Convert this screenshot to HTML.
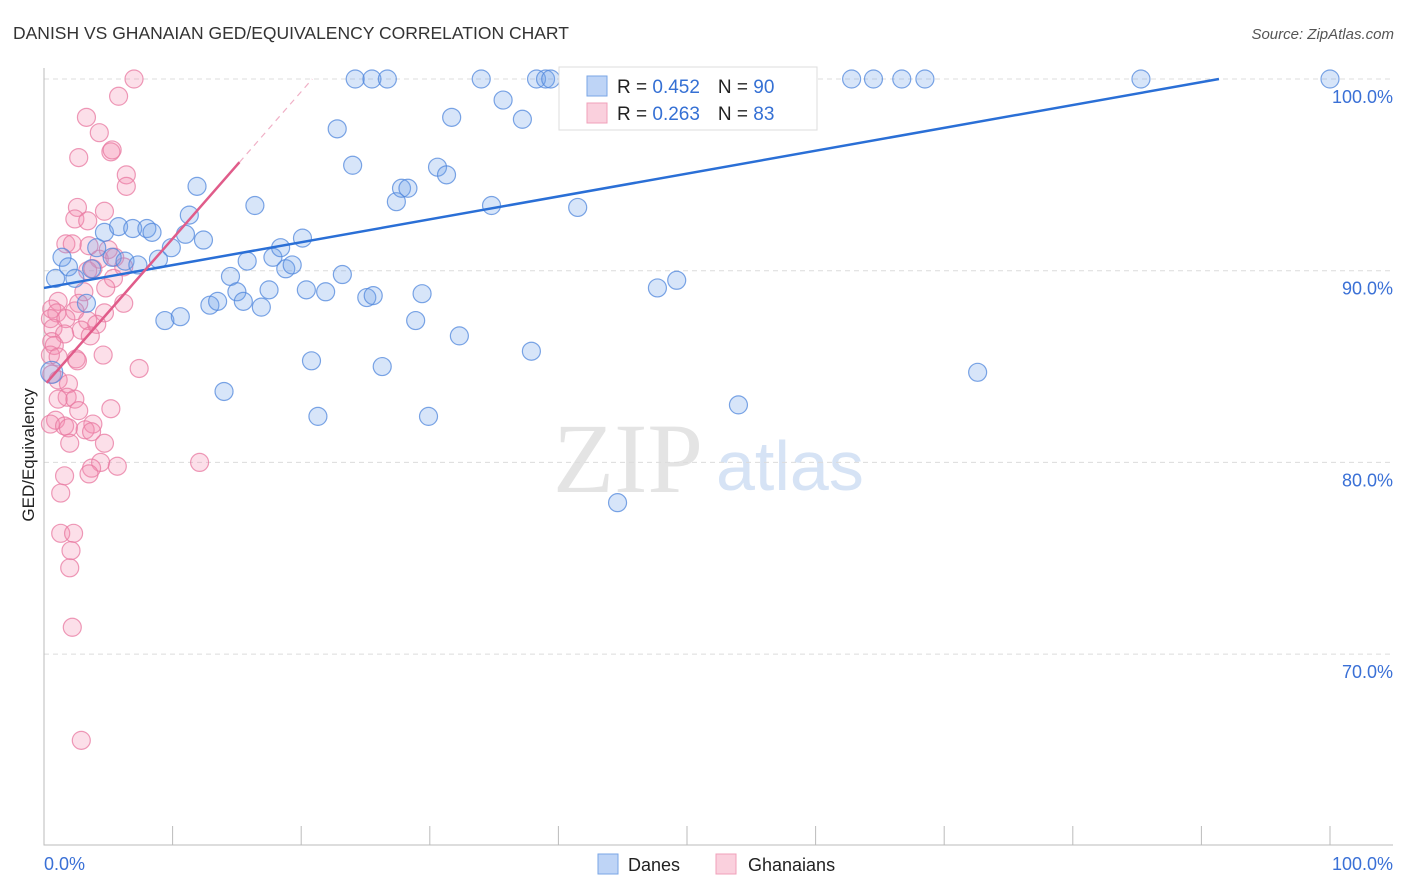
<!DOCTYPE html>
<html><head><meta charset="utf-8"><style>
body{margin:0;background:#fff;font-family:"Liberation Sans",sans-serif}
svg{display:block}
</style></head><body>
<svg id="chart" width="1406" height="892">
<text x="13" y="39" font-size="17.5" fill="#333">DANISH VS GHANAIAN GED/EQUIVALENCY CORRELATION CHART</text>
<text x="1394" y="39" font-size="15" fill="#555" font-style="italic" text-anchor="end">Source: ZipAtlas.com</text>
<g>
<text x="553" y="492" font-family="Liberation Serif,serif" font-size="100" fill="#e4e4e4">ZIP</text>
<text x="716" y="490" font-size="70" fill="#d6e3f5">atlas</text>
</g>
<g id="grid"></g>
<g id="axes"></g>
<g id="pts"></g>
<g id="lines"></g>
<text transform="translate(34,455) rotate(-90)" font-size="17" fill="#222" text-anchor="middle">GED/Equivalency</text>
<g>
<rect x="559" y="67" width="258" height="63" fill="#fff" stroke="#ddd"/>
<rect x="587" y="76" width="20" height="20" fill="rgba(110,160,235,0.45)" stroke="#7aa6e6"/>
<rect x="587" y="103" width="20" height="20" fill="rgba(245,150,180,0.45)" stroke="#f0a0ba"/>
<text x="617" y="93" font-size="19" fill="#222">R = <tspan fill="#3570d4">0.452</tspan><tspan dx="18">N = </tspan><tspan fill="#3570d4">90</tspan></text>
<text x="617" y="120" font-size="19" fill="#222">R = <tspan fill="#3570d4">0.263</tspan><tspan dx="18">N = </tspan><tspan fill="#3570d4"> 83</tspan></text>
</g>
<g>
<rect x="598" y="854" width="20" height="20" fill="rgba(110,160,235,0.45)" stroke="#7aa6e6"/>
<text x="628" y="871" font-size="18" fill="#222">Danes</text>
<rect x="716" y="854" width="20" height="20" fill="rgba(245,150,180,0.45)" stroke="#f0a0ba"/>
<text x="748" y="871" font-size="18" fill="#222">Ghanaians</text>
</g>
</svg>
<script>
const blueX=[0.9,1.4,1.9,2.4,3.3,3.7,4.1,4.7,5.3,5.8,6.3,6.9,7.3,8.0,8.4,8.9,9.4,9.9,10.6,11.0,11.3,11.9,12.4,12.9,13.5,14.0,14.5,15.0,15.5,15.8,16.4,16.9,17.5,17.8,18.4,18.8,19.3,20.1,20.4,20.8,21.3,21.9,22.8,23.2,24.0,24.2,25.1,25.5,25.6,26.3,26.7,27.4,27.8,28.3,28.9,29.4,29.9,30.6,31.3,31.7,32.3,34.0,34.8,35.7,37.2,37.9,38.3,39.0,39.4,41.5,43.0,44.6,44.9,45.6,47.7,49.2,51.4,52.5,54.0,58.3,62.8,64.5,66.7,68.5,72.6,85.3,100,0.6];
const blueY=[89.6,90.7,90.2,89.6,88.3,90.1,91.2,92.0,90.7,92.3,90.5,92.2,90.3,92.2,92.0,90.6,87.4,91.2,87.6,91.9,92.9,94.4,91.6,88.2,88.4,83.7,89.7,88.9,88.4,90.5,93.4,88.1,89.0,90.7,91.2,90.1,90.3,91.7,89.0,85.3,82.4,88.9,97.4,89.8,95.5,100,88.6,100,88.7,85.0,100,93.6,94.3,94.3,87.4,88.8,82.4,95.4,95.0,98.0,86.6,100,93.4,98.9,97.9,85.8,100,100,100,93.3,100,77.9,100,100,89.1,89.5,100,100,83.0,100,100,100,100,100,84.7,100,100,84.7];
const pinkX=[7.0,5.8,3.3,4.3,5.2,5.3,2.7,6.4,6.4,2.6,4.7,2.4,3.4,1.7,2.2,3.5,5.0,4.3,5.5,6.2,3.4,3.8,5.4,4.8,3.1,1.1,2.7,6.2,0.6,1.0,2.4,4.7,0.5,1.7,3.4,4.1,0.7,2.9,1.6,3.6,0.6,0.8,0.5,1.1,2.5,4.6,2.6,7.4,0.6,1.1,1.9,1.8,2.4,1.1,2.7,5.2,0.9,0.5,1.6,1.9,3.8,3.2,3.7,4.7,2.0,4.4,5.7,3.7,3.5,12.1,1.6,1.3,1.3,2.3,2.1,2.0,2.2,2.9];
const pinkY=[100,99.1,98.0,97.2,96.2,96.3,95.9,95.0,94.4,93.3,93.1,92.7,92.6,91.4,91.4,91.3,91.1,90.6,90.7,90.2,90.0,90.1,89.6,89.1,88.9,88.4,88.3,88.3,88.0,87.8,87.9,87.8,87.5,87.5,87.4,87.2,87.0,86.9,86.7,86.6,86.3,86.1,85.6,85.5,85.4,85.6,85.3,84.9,84.6,84.3,84.1,83.4,83.3,83.3,82.7,82.8,82.2,82.0,81.9,81.8,82.0,81.7,81.6,81.0,81.0,80.0,79.8,79.7,79.4,80.0,79.3,78.4,76.3,76.3,75.4,74.5,71.4,65.5];
const yTicks=[100,90,80,70];
const yTickLabels=["100.0%","90.0%","80.0%","70.0%"];
const blueFit=[89.1,0.1193];  // intercept, slope
const pinkFit=[84.0,0.767];
const pinkSolidEnd=15.2;
const X0=44,X1=1330,YT=79,PX=19.17;
function sx(v){return X0+(X1-X0)*v/100;}
function sy(v){return YT+(100-v)*PX;}
const NS="http://www.w3.org/2000/svg";
function mk(p,t,a){const e=document.createElementNS(NS,t);for(const k in a)e.setAttribute(k,a[k]);p.appendChild(e);return e;}
const grid=document.getElementById('grid'),axes=document.getElementById('axes'),pts=document.getElementById('pts'),lines=document.getElementById('lines');
yTicks.forEach((t,i)=>{
 const g=mk(grid,'line',{x1:44,x2:1393,y1:sy(t),y2:sy(t),stroke:'#dcdcdc','stroke-dasharray':'5,4'});
 
 
 const l=mk(axes,'text',{x:1393,y:sy(t)+24,'font-size':18,fill:'#3a70d6','text-anchor':'end'});
 l.textContent=yTickLabels[i];
 
 
});
const ax=mk(axes,'path',{d:'M44 68V845H1393',fill:'none',stroke:'#bbb'});


for(let i=0;i<=10;i++){
 const t=mk(axes,'line',{x1:sx(i*10),x2:sx(i*10),y1:826,y2:845,stroke:'#bbb'});
 
 
}
const xl0=mk(axes,'text',{x:44,y:870,'font-size':18,fill:'#3a70d6'});xl0.textContent='0.0%';


const xl1=mk(axes,'text',{x:1393,y:870,'font-size':18,fill:'#3a70d6','text-anchor':'end'});xl1.textContent='100.0%';


pinkX.forEach((x,i)=>{
 const c=mk(pts,'circle',{cx:sx(x),cy:sy(pinkY[i]),r:9,fill:'rgba(245,140,175,0.28)',stroke:'rgba(232,120,160,0.75)','stroke-width':1.2});
 
 
});
blueX.forEach((x,i)=>{
 const c=mk(pts,'circle',{cx:sx(x),cy:sy(blueY[i]),r:i==blueX.length-1?11:9,fill:'rgba(110,160,235,0.28)',stroke:'rgba(80,135,220,0.75)','stroke-width':1.2});
 
 
});
const bEnd=(100-blueFit[0])/blueFit[1];
const bl=mk(lines,'line',{x1:sx(0),y1:sy(blueFit[0]),x2:sx(bEnd),y2:sy(100),stroke:'#2a6fd6','stroke-width':2.5});


const px0=0.2,pEnd=(100-pinkFit[0])/pinkFit[1];
const pl=mk(lines,'line',{x1:sx(px0),y1:sy(pinkFit[0]+pinkFit[1]*px0),x2:sx(pinkSolidEnd),y2:sy(pinkFit[0]+pinkFit[1]*pinkSolidEnd),stroke:'#e05c8a','stroke-width':2.5});


const pd=mk(lines,'line',{x1:sx(pinkSolidEnd),y1:sy(pinkFit[0]+pinkFit[1]*pinkSolidEnd),x2:sx(pEnd),y2:sy(100),stroke:'#f0b0c6','stroke-width':1.2,'stroke-dasharray':'6,5'});


</script>
</body></html>
